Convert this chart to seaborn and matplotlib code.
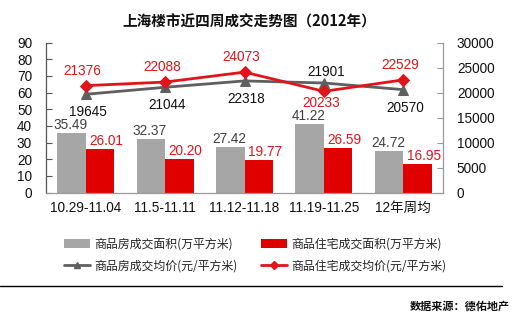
import matplotlib
matplotlib.use("Agg")
import matplotlib.pyplot as plt
import seaborn as sns
import pandas as pd
import numpy as np
from matplotlib.lines import Line2D
from matplotlib.patches import Patch

# ---- data ----
categories = ["10.29-11.04", "11.5-11.11", "11.12-11.18", "11.19-11.25", "12年周均"]
area_all = [35.49, 32.37, 27.42, 41.22, 24.72]      # 商品房成交面积(万平方米)
area_res = [26.01, 20.20, 19.77, 26.59, 16.95]      # 商品住宅成交面积(万平方米)
price_all = [19645, 21044, 22318, 21901, 20570]     # 商品房成交均价(元/平方米)
price_res = [21376, 22088, 24073, 20233, 22529]     # 商品住宅成交均价(元/平方米)
series_names = ["商品房成交面积(万平方米)", "商品住宅成交面积(万平方米)",
                "商品房成交均价(元/平方米)", "商品住宅成交均价(元/平方米)"]
left_ticks = list(range(0, 100, 10))
right_ticks = list(range(0, 35000, 5000))

sns.set_theme(style="white")
plt.rcParams['font.family'] = ['Liberation Sans', 'Noto Sans CJK SC', 'DejaVu Sans']

GRAY_BAR = "#A6A6A6"
RED_BAR = "#E00000"
GRAY_LINE = "#5F5F5F"
RED_LINE = "#E0141B"
RED_TXT = "#E0141B"
FS = 9.8

W, H = 528, 323
fig = plt.figure(figsize=(W / 100, H / 100), dpi=100)
fig.patch.set_facecolor("white")
x0, x1, ytop, ybot = 46, 443, 42.5, 192.5
ax = fig.add_axes([x0 / W, 1 - ybot / H, (x1 - x0) / W, (ybot - ytop) / H])

df_bar = pd.DataFrame({
    "cat": categories * 2,
    "value": area_all + area_res,
    "series": [series_names[0]] * len(categories) + [series_names[1]] * len(categories),
})
sns.barplot(data=df_bar, x="cat", y="value", hue="series", order=categories,
            hue_order=series_names[:2], palette=[GRAY_BAR, RED_BAR],
            width=0.72, ax=ax, legend=False, saturation=1, edgecolor="none")
ax.set_xlim(-0.5, len(categories) - 0.5)
ax.set_ylim(0, 90)
ax.set_yticks(left_ticks)
ax.set_xlabel("")
ax.set_ylabel("")
ax.tick_params(axis="y", direction="in", length=4, width=0.8, color="#555555",
               labelsize=FS, pad=10, left=True, labelcolor="#111111")
ax.tick_params(axis="x", length=0, labelsize=FS, pad=6, labelcolor="#111111")
for s in ["top", "right"]:
    ax.spines[s].set_visible(False)
ax.spines["left"].set_color("#555555")
ax.spines["bottom"].set_color("#9A9A9A")
ax.spines["left"].set_linewidth(0.9)
ax.spines["bottom"].set_linewidth(0.9)

# bar labels
px = 0.72  # points per pixel
for cont, col, dx in zip(ax.containers, ["#404040", RED_TXT], [-1, 6]):
    for rect in cont:
        h = rect.get_height()
        ax.annotate(f"{h:.2f}", (rect.get_x() + rect.get_width() / 2, h),
                    xytext=(dx * px, 8 * px), textcoords="offset points",
                    ha="center", va="center", fontsize=FS, color=col)

# lines on twin axis
ax2 = ax.twinx()
xs = np.arange(len(categories))
df_line = pd.DataFrame({
    "x": np.concatenate([xs, xs]),
    "price": price_all + price_res,
    "series": [series_names[2]] * len(categories) + [series_names[3]] * len(categories),
})
sns.lineplot(data=df_line[df_line.series == series_names[2]], x="x", y="price",
             color=GRAY_LINE, marker="^", markersize=7, markeredgecolor=GRAY_LINE,
             linewidth=2, ax=ax2, legend=False)
sns.lineplot(data=df_line[df_line.series == series_names[3]], x="x", y="price",
             color=RED_LINE, marker="D", markersize=6, markeredgecolor=RED_LINE,
             linewidth=2, ax=ax2, legend=False)
ax2.set_ylim(0, 30000)
ax2.set_yticks(right_ticks)
ax2.set_xlim(-0.5, len(categories) - 0.5)
ax2.set_xlabel("")
ax2.set_ylabel("")
ax2.tick_params(axis="y", direction="in", length=4, width=0.8, color="#9A9A9A",
                labelsize=FS, pad=10, right=True, labelcolor="#111111")
for s in ["top", "left", "bottom"]:
    ax2.spines[s].set_visible(False)
ax2.spines["right"].set_color("#9A9A9A")
ax2.spines["right"].set_linewidth(0.9)
ax2.grid(False)
ax.grid(False)

for i in range(len(categories)):
    g, r = price_all[i], price_res[i]
    if g > r:
        gdy, rdy = 11, -12
    else:
        gdy, rdy = -18, 15
    ax2.annotate(f"{g}", (xs[i], g), xytext=(2 * px, gdy * px), textcoords="offset points",
                 ha="center", va="center", fontsize=FS, color="#111111")
    ax2.annotate(f"{r}", (xs[i], r), xytext=(-3 * px, rdy * px), textcoords="offset points",
                 ha="center", va="center", fontsize=FS, color=RED_TXT)

# title
fig.text(249 / W, 1 - 22 / H, "上海楼市近四周成交走势图（2012年）", ha="center", va="center",
         fontsize=10.5, fontweight="bold", family=["Noto Sans CJK SC", "DejaVu Sans"], color="#111111")

# legend
handles = [
    Patch(facecolor=GRAY_BAR, edgecolor="none"),
    Line2D([0], [0], color=GRAY_LINE, lw=2, marker="^", markersize=5),
    Patch(facecolor=RED_BAR, edgecolor="none"),
    Line2D([0], [0], color=RED_LINE, lw=2, marker="D", markersize=4),
]
labels = [series_names[0], series_names[2], series_names[1], series_names[3]]
leg = fig.legend(handles, labels, ncol=2, loc="center", bbox_to_anchor=(255 / W, 1 - 255 / H),
                 frameon=False, prop={"family": ["Noto Sans CJK SC", "DejaVu Sans"], "size": 8.6},
                 handlelength=2.2, handleheight=0.7, handletextpad=0.3, columnspacing=2.0,
                 labelspacing=0.75)
for t in leg.get_texts():
    t.set_color("#222222")

# separator line and source
fig.add_artist(Line2D([0, 502 / W], [1 - 286 / H, 1 - 286 / H], color="black", lw=1,
                      transform=fig.transFigure))
fig.text(510 / W, 1 - 306 / H, "数据来源：德佑地产", ha="right", va="center", fontsize=8,
         fontweight="bold", family=["Noto Sans CJK SC", "DejaVu Sans"], color="#111111")

fig.savefig("out.png", dpi=100, facecolor="white")
